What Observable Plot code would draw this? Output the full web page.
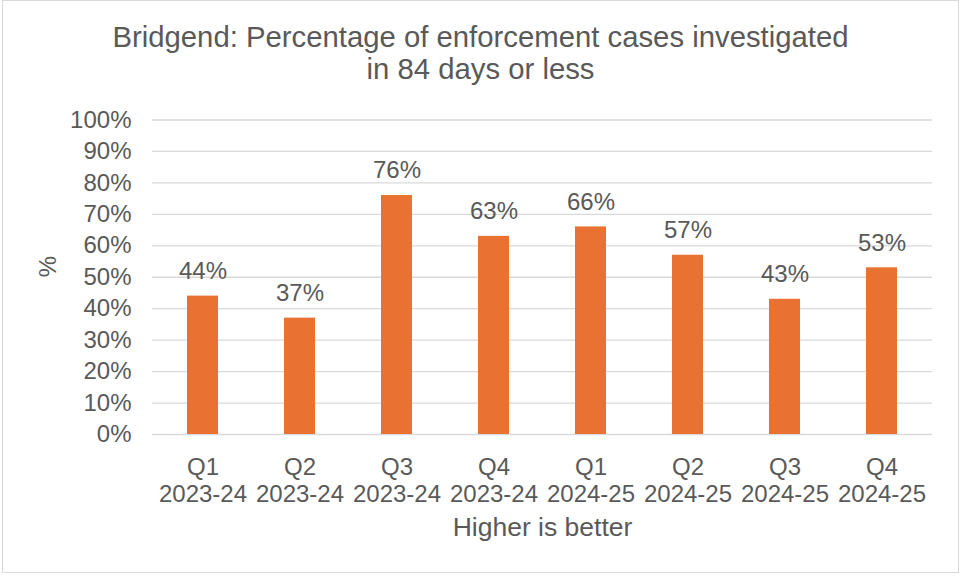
<!DOCTYPE html>
<html>
<head>
<meta charset="utf-8">
<script src="https://cdn.jsdelivr.net/npm/d3@7"></script>
<script src="https://cdn.jsdelivr.net/npm/@observablehq/plot@0.6"></script>
<style>
  html, body { margin: 0; padding: 0; background: #fff; }
  #wrap { position: relative; width: 961px; height: 576px; overflow: hidden; font-family: "Liberation Sans", Arial, sans-serif; color: #595959; }
  #frame { position: absolute; left: 2px; top: 0px; width: 957px; height: 573px; border: 1px solid #D9D9D9; box-sizing: border-box; }
  #title { position: absolute; left: 0; top: 20.5px; width: 961px; text-align: center; font-size: 29.3px; line-height: 32.5px; }
  #chart { position: absolute; left: 0; top: 100px; }
</style>
</head>
<body>
<div id="wrap">
  <div id="frame"></div>
  <div id="title">Bridgend: Percentage of enforcement cases investigated<br>in 84 days or less</div>
  <div id="chart"></div>
</div>
<script>
const quarters = ["Q1", "Q2", "Q3", "Q4", "Q1", "Q2", "Q3", "Q4"];
const years = ["2023-24", "2023-24", "2023-24", "2023-24", "2024-25", "2024-25", "2024-25", "2024-25"];
const values = [44, 37, 76, 63, 66, 57, 43, 53];
const yTicks = [0, 10, 20, 30, 40, 50, 60, 70, 80, 90, 100];
const yTitle = "%";
const xTitle = "Higher is better";

const categories = quarters.map((q, i) => q + "\n" + years[i]);
const data = categories.map((c, i) => ({category: c, value: values[i]}));

const chart = Plot.plot({
  width: 961,
  height: 476,
  marginTop: 19.5,
  marginBottom: 142,
  marginLeft: 152,
  marginRight: 29,
  style: {fontFamily: '"Liberation Sans", Arial, sans-serif', color: "#595959", background: "transparent", overflow: "visible"},
  x: {domain: categories, paddingInner: 0.68, paddingOuter: 0.34, label: null},
  y: {domain: [0, 100], label: null},
  marks: [
    Plot.gridY(yTicks, {stroke: "#D9D9D9", strokeOpacity: 1, strokeWidth: 1.3}),
    Plot.barY(data, {x: "category", y: "value", fill: "#E97132"}),
    Plot.text(data, {x: "category", y: "value", text: d => d.value + "%", lineAnchor: "bottom", dy: -17, fontSize: 24, fill: "#595959"}),
    Plot.axisY(yTicks, {tickSize: 0, tickPadding: 21, tickFormat: d => d + "%", fontSize: 24, label: null}),
    Plot.axisX({tickSize: 0, tickPadding: 21, fontSize: 24, lineHeight: 1.125, label: null}),
    Plot.text([yTitle], {frameAnchor: "left", dx: -104, rotate: -90, fontSize: 24, fill: "#595959"}),
    Plot.text([xTitle], {frameAnchor: "bottom", dy: 82.7, lineAnchor: "top", fontSize: 26.5, fill: "#595959"})
  ]
});
document.getElementById("chart").appendChild(chart);
</script>
</body>
</html>
